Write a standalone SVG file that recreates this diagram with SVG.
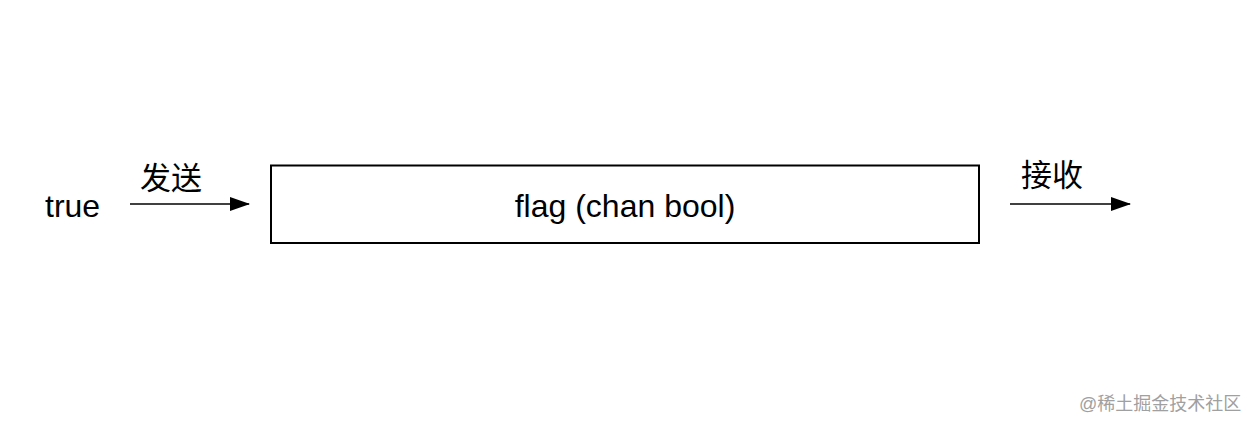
<svg xmlns="http://www.w3.org/2000/svg" width="1256" height="428" viewBox="0 0 1256 428">
<style>
.t{font-family:"Liberation Sans",Arial,"Noto Sans CJK SC",sans-serif;font-size:32px;fill:#000}
.c{font-family:"Liberation Sans","Noto Sans CJK SC",sans-serif;font-size:31px;fill:#000}
.w{font-family:"Liberation Sans","Noto Sans CJK SC",sans-serif;font-size:18px;fill:#a0a0a0}
.ln{stroke:#000;stroke-width:1.5;fill:none}
</style>
<defs>
<marker id="ah" markerWidth="20" markerHeight="14" refX="19" refY="7" orient="auto" markerUnits="userSpaceOnUse">
<path d="M0,0 L20,7 L0,14 Z" fill="#000"/>
</marker>
</defs>
<rect width="1256" height="428" fill="#fff"/>
<g id="true-node"><text class="t" x="45" y="217">true</text></g>
<g id="flag-node">
<rect x="271" y="165.5" width="708" height="77.5" fill="#fff" stroke="#000" stroke-width="2"/>
<text class="t" x="625" y="217" text-anchor="middle">flag (chan bool)</text>
</g>
<g id="connectors">
<line class="ln" x1="130" y1="204" x2="249" y2="204" marker-end="url(#ah)"/>
<line class="ln" x1="1010" y1="204" x2="1130" y2="204" marker-end="url(#ah)"/>
<text class="c" x="140" y="189">发送</text>
<text class="c" x="1021" y="186">接收</text>
</g>
<text class="w" x="1079" y="410">@稀土掘金技术社区</text>
</svg>
